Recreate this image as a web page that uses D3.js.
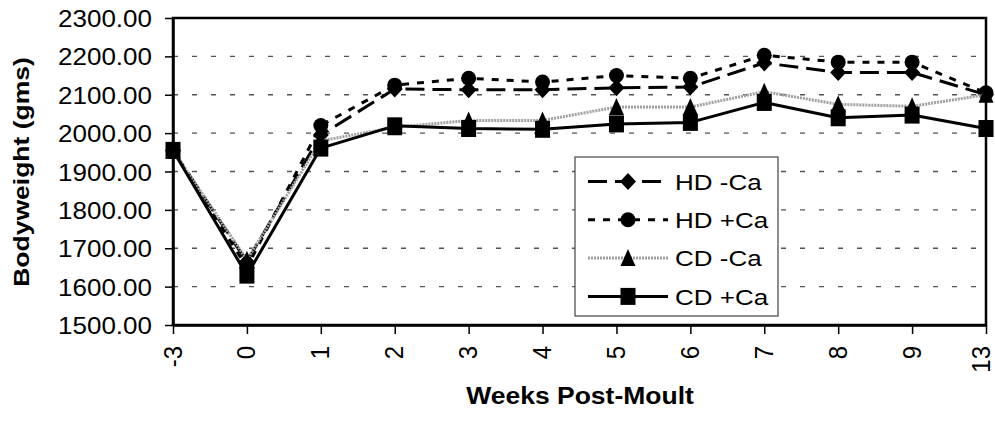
<!DOCTYPE html>
<html><head><meta charset="utf-8">
<script src="https://cdn.jsdelivr.net/npm/d3@7"></script>
<style>body{margin:0;background:#fff}svg{display:block}</style>
</head><body>
<svg id="chart" width="995" height="421"></svg>
<script>
const weeks = ["-3","0","1","2","3","4","5","6","7","8","9","13"];
const hdMinusCa = [1955, 1665, 1995, 2115, 2113, 2113, 2118, 2120, 2183, 2158, 2158, 2100];
const hdPlusCa  = [1955, 1650, 2020, 2125, 2143, 2133, 2150, 2143, 2203, 2185, 2185, 2105];
const cdMinusCa = [1955, 1670, 1980, 2015, 2033, 2033, 2068, 2068, 2108, 2075, 2070, 2100];
const cdPlusCa  = [1955, 1630, 1961, 2019, 2012, 2010, 2024, 2028, 2080, 2040, 2047, 2012];
const seriesNames = ["HD -Ca", "HD +Ca", "CD -Ca", "CD +Ca"];
const yTicks = [1500,1600,1700,1800,1900,2000,2100,2200,2300];
const yTitle = "Bodyweight (gms)";
const xTitle = "Weeks Post-Moult";

const FONT = "'Liberation Sans', Arial, sans-serif";
const W = 995;
const svg = d3.select("#chart");
const L = 173, R = 986, T = 18, B = 325;
const x = d3.scalePoint().domain(weeks).range([L, R]);
const y = d3.scaleLinear().domain([1500, 2300]).range([B, T]);

const styles = [
  {values: hdMinusCa, stroke:"#000", width:3, dash:"19,8", marker:"diamond"},
  {values: hdPlusCa,  stroke:"#000", width:3, dash:"7,8", marker:"circle"},
  {values: cdMinusCa, stroke:"#a0a0a0", width:3, dash:"2,1", marker:"triangle"},
  {values: cdPlusCa,  stroke:"#000", width:3, dash:null, marker:"square"}
];

// gridlines
svg.append("g").selectAll("line").data(yTicks.filter(v => v > 1500 && v < 2300)).join("line")
  .attr("x1", L).attr("x2", R).attr("y1", d => y(d)).attr("y2", d => y(d))
  .attr("stroke", "#555").attr("stroke-width", 1.3).attr("stroke-dasharray", "5,14");

// plot box
svg.append("rect").attr("x", L).attr("y", T).attr("width", R - L).attr("height", B - T)
  .attr("fill", "none").attr("stroke", "#000").attr("stroke-width", 2.5);

// y axis
const yAxis = svg.append("g").attr("transform", `translate(${L},0)`)
  .call(d3.axisLeft(y).tickValues(yTicks).tickSize(8).tickSizeOuter(0).tickFormat(d3.format(".2f")));
yAxis.select(".domain").attr("stroke-width", 2.5);
yAxis.selectAll(".tick line").attr("stroke-width", 1.5);
yAxis.selectAll(".tick text").attr("x", -21).attr("dy", "0.36em")
  .attr("font-family", FONT).attr("font-size", 26).attr("fill", "#000")
  .attr("transform", "scale(1,0.92)");

// x axis
const xAxis = svg.append("g").attr("transform", `translate(0,${B})`)
  .call(d3.axisBottom(x).tickSize(9).tickSizeOuter(0));
xAxis.select(".domain").attr("stroke-width", 2.5);
xAxis.selectAll(".tick line").attr("stroke-width", 1.5);
xAxis.selectAll(".tick text")
  .attr("y", 0).attr("dy", 0).attr("x", 0)
  .attr("text-anchor", "end")
  .attr("font-family", FONT).attr("font-size", 24).attr("fill", "#000")
  .attr("transform", d => `translate(${Math.min(8, W - 6 - x(d))},21) rotate(-90) scale(1,1.08)`);

// markers
function drawMarker(g, type, cx, cy) {
  if (type === "diamond") {
    g.append("path").attr("d", `M${cx},${cy-8.5}L${cx+8},${cy}L${cx},${cy+8.5}L${cx-8},${cy}Z`).attr("fill", "#000");
  } else if (type === "circle") {
    g.append("ellipse").attr("cx", cx).attr("cy", cy).attr("rx", 7.5).attr("ry", 7.5).attr("fill", "#000");
  } else if (type === "triangle") {
    g.append("path").attr("d", `M${cx},${cy-9}L${cx+7.5},${cy+8}L${cx-7.5},${cy+8}Z`).attr("fill", "#000");
  } else {
    g.append("rect").attr("x", cx-7.5).attr("y", cy-8.5).attr("width", 15).attr("height", 17).attr("fill", "#000");
  }
}

const line = d3.line().x((d, i) => x(weeks[i])).y(d => y(d));
styles.forEach(s => {
  const g = svg.append("g");
  g.append("path").datum(s.values).attr("d", line).attr("fill", "none")
    .attr("stroke", s.stroke).attr("stroke-width", s.width)
    .attr("stroke-dasharray", s.dash).attr("stroke-linejoin", "round");
  s.values.forEach((v, i) => drawMarker(g, s.marker, x(weeks[i]), y(v)));
});

// legend
const lg = svg.append("g");
lg.append("rect").attr("x", 575).attr("y", 157).attr("width", 203).attr("height", 159)
  .attr("fill", "#fff").attr("stroke", "#444").attr("stroke-width", 1.2);
styles.forEach((s, i) => {
  const cy = 181.5 + i * 38.3;
  lg.append("line").attr("x1", 588).attr("x2", 668).attr("y1", cy).attr("y2", cy)
    .attr("stroke", s.stroke).attr("stroke-width", s.width).attr("stroke-dasharray", s.dash);
  drawMarker(lg, s.marker, 628, cy);
  lg.append("text").attr("transform", `translate(675,${cy}) scale(1,0.88)`)
    .attr("dy", "0.36em").attr("font-family", FONT).attr("font-size", 26).attr("fill", "#000")
    .text(seriesNames[i]);
});

// titles
svg.append("text").attr("transform", "translate(29,172) rotate(-90) scale(1,0.86)")
  .attr("text-anchor", "middle").attr("font-family", FONT).attr("font-weight", "bold")
  .attr("font-size", 26.5).attr("fill", "#000").text(yTitle);
svg.append("text").attr("transform", "translate(580,404) scale(1,0.88)")
  .attr("text-anchor", "middle").attr("font-family", FONT).attr("font-weight", "bold")
  .attr("font-size", 26.5).attr("fill", "#000").text(xTitle);
</script>
</body></html>
